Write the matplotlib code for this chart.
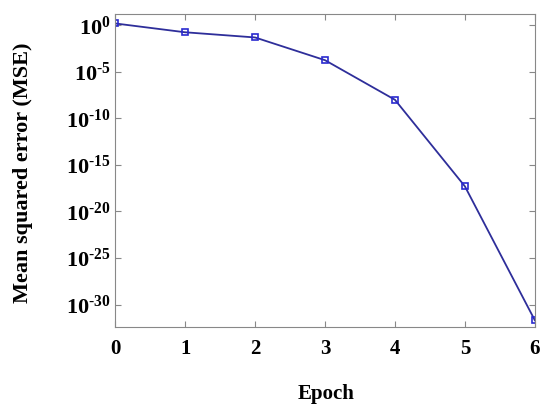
import matplotlib
matplotlib.use("Agg")
import matplotlib.pyplot as plt
import numpy as np

epochs = [0, 1, 2, 3, 4, 5, 6]
mse = [1.6, 0.18, 0.05, 1.8e-4, 1e-8, 5e-18, 2e-32]
ytick_exp = [0, -5, -10, -15, -20, -25, -30]

plt.rcParams['font.family'] = 'Liberation Serif'
plt.rcParams['font.weight'] = 'bold'
plt.rcParams['mathtext.fontset'] = 'custom'
plt.rcParams['mathtext.rm'] = 'Liberation Serif:bold'
plt.rcParams['mathtext.bf'] = 'Liberation Serif:bold'
plt.rcParams['mathtext.it'] = 'Liberation Serif:bold'

fig = plt.figure(figsize=(5.43, 4.05), dpi=100)
ax = fig.add_axes([0.212, 0.193, 0.773, 0.772])

ax.semilogy(epochs, mse, color='#2e2e9a', lw=1.3, marker='s', ms=4,
            mfc='none', mec='#2a2ad0', mew=1.2)

ax.set_xlim(0, 6)
ax.set_ylim(10 ** -32.4, 10 ** 1.2)
ax.set_xticks(epochs)
ax.set_xticklabels([str(e) for e in epochs], fontsize=15, fontweight='bold')
ax.set_yticks([10.0 ** e for e in ytick_exp])
ax.set_yticklabels([r'$\mathbf{10^{\text{%s}}}$' % ('-%d' % -e if e else '0') for e in ytick_exp],
                   fontsize=16)
ax.yaxis.set_minor_locator(matplotlib.ticker.NullLocator())

ax.tick_params(direction='in', top=True, right=True, length=4, color='#888888')
ax.tick_params(axis='x', pad=9)
ax.tick_params(axis='y', pad=3)
for s in ax.spines.values():
    s.set_color('#888888')

ax.set_xlabel('Epoch', fontsize=15, fontweight='bold')
ax.set_ylabel('Mean squared error (MSE)', fontsize=16, fontweight='bold')
ax.xaxis.set_label_coords(326 / 543, 1 - 394 / 405, transform=fig.transFigure)
ax.xaxis.label.set_va('center')
ax.yaxis.set_label_coords(23 / 543, 1 - 173 / 405, transform=fig.transFigure)
ax.yaxis.label.set_va('center')

fig.savefig('out.png', dpi=100)
